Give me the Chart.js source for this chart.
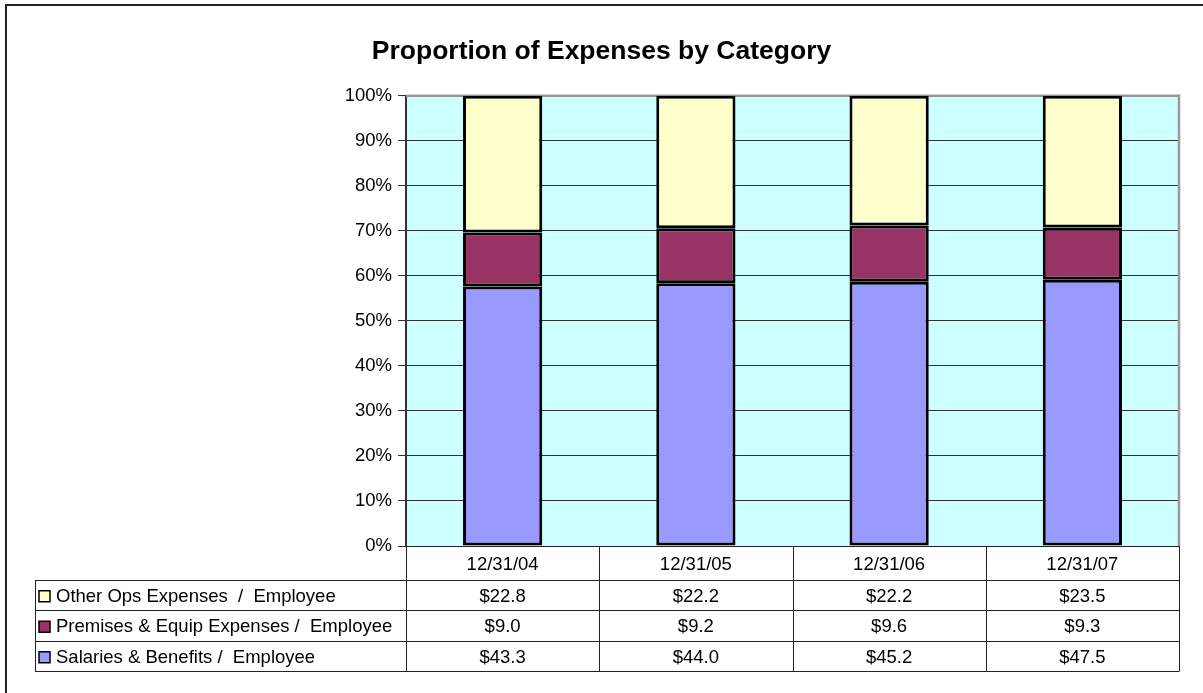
<!DOCTYPE html>
<html>
<head>
<meta charset="utf-8">
<script src="https://cdn.jsdelivr.net/npm/chart.js@4.4.1/dist/chart.umd.min.js"></script>
<style>
  html, body { margin: 0; padding: 0; background: #fff; }
  #wrap { width: 1203px; height: 693px; position: relative; }
</style>
</head>
<body>
<div id="wrap"><canvas id="expGraph"></canvas></div>
<script>
'use strict';

// data
const dates = ['12/31/04', '12/31/05', '12/31/06', '12/31/07'];
const salaries = [43.3, 44.0, 45.2, 47.5];
const premises = [9.0, 9.2, 9.6, 9.3];
const otherOps = [22.8, 22.2, 22.2, 23.5];
const yTicks = [0, 10, 20, 30, 40, 50, 60, 70, 80, 90, 100];

const seriesNames = ['Salaries & Benefits /  Employee', 'Premises & Equip Expenses /  Employee', 'Other Ops Expenses  /  Employee'];
const seriesColors = ['#9999FF', '#993366', '#FFFFCC'];

const FONT = '"Liberation Sans", Arial, sans-serif';
const TXT = 18.5;

function share(arr) {
  return arr.map(function (v, i) {
    return v / (salaries[i] + premises[i] + otherOps[i]) * 100;
  });
}

// plot background, frame, outer border and the data table
const tablePlugin = {
  id: 'tablePlugin',
  beforeDraw: function (chart) {
    const ctx = chart.ctx;
    const a = chart.chartArea;
    ctx.save();
    ctx.fillStyle = '#fff';
    ctx.fillRect(0, 0, chart.width, chart.height);
    ctx.strokeStyle = '#222';
    ctx.lineWidth = 2;
    ctx.beginPath();
    ctx.moveTo(6, chart.height + 5);
    ctx.lineTo(6, 5);
    ctx.lineTo(chart.width + 5, 5);
    ctx.stroke();
    ctx.fillStyle = '#CCFFFF';
    ctx.fillRect(a.left, a.top, a.right - a.left, a.bottom - a.top);
    ctx.restore();
  },
  beforeDatasetsDraw: function (chart) {
    const ctx = chart.ctx;
    const a = chart.chartArea;
    ctx.save();
    ctx.strokeStyle = '#999';
    ctx.lineWidth = 2.5;
    ctx.beginPath();
    ctx.moveTo(a.left, a.top);
    ctx.lineTo(a.right, a.top);
    ctx.lineTo(a.right, a.bottom);
    ctx.stroke();
    ctx.restore();
  },
  afterDraw: function (chart) {
    const ctx = chart.ctx;
    const a = chart.chartArea;
    const xs = chart.scales.x;
    const step = xs.getPixelForValue(1) - xs.getPixelForValue(0);
    const tableLeft = 35;
    const rowTops = [a.bottom, a.bottom + 33.5, a.bottom + 64, a.bottom + 94.5, a.bottom + 125];
    const rows = [
      { name: seriesNames[2], color: seriesColors[2], vals: otherOps },
      { name: seriesNames[1], color: seriesColors[1], vals: premises },
      { name: seriesNames[0], color: seriesColors[0], vals: salaries }
    ];

    ctx.save();
    ctx.strokeStyle = '#222';
    ctx.lineWidth = 1;
    ctx.beginPath();
    // horizontal lines
    ctx.moveTo(a.left, rowTops[0] + 0.5);
    ctx.lineTo(a.right, rowTops[0] + 0.5);
    for (let r = 1; r < rowTops.length; r++) {
      ctx.moveTo(tableLeft, Math.round(rowTops[r]) + 0.5);
      ctx.lineTo(a.right, Math.round(rowTops[r]) + 0.5);
    }
    // vertical lines
    ctx.moveTo(tableLeft + 0.5, Math.round(rowTops[1]) + 0.5);
    ctx.lineTo(tableLeft + 0.5, Math.round(rowTops[4]) + 0.5);
    for (let i = 0; i <= dates.length; i++) {
      const x = Math.round(xs.getPixelForValue(i) - step / 2) + 0.5;
      ctx.moveTo(x, rowTops[0]);
      ctx.lineTo(x, Math.round(rowTops[4]) + 0.5);
    }
    ctx.stroke();

    ctx.fillStyle = '#000';
    ctx.font = TXT + 'px ' + FONT;
    ctx.textBaseline = 'middle';
    ctx.textAlign = 'center';
    dates.forEach(function (d, i) {
      ctx.fillText(d, xs.getPixelForValue(i), (rowTops[0] + rowTops[1]) / 2 + 2);
    });

    rows.forEach(function (row, r) {
      const yc = (rowTops[r + 1] + rowTops[r + 2]) / 2 + 2;
      ctx.fillStyle = row.color;
      ctx.fillRect(39, yc - 6, 11, 11);
      ctx.strokeStyle = '#000';
      ctx.lineWidth = 1.5;
      ctx.strokeRect(39, yc - 6, 11, 11);
      ctx.fillStyle = '#000';
      ctx.textAlign = 'left';
      ctx.fillText(row.name, 56, yc);
      ctx.textAlign = 'center';
      row.vals.forEach(function (v, i) {
        ctx.fillText('$' + v.toFixed(1), xs.getPixelForValue(i), yc);
      });
    });
    ctx.restore();
  }
};

window.onload = function () {
  const context = document.getElementById('expGraph').getContext('2d');

  const barStyle = {
    borderColor: '#000',
    borderWidth: 3,
    borderSkipped: false,
    barPercentage: 0.41,
    categoryPercentage: 1.0
  };

  new Chart(context, {
    type: 'bar',
    data: {
      labels: dates,
      datasets: [
        Object.assign({ label: seriesNames[0], data: share(salaries), backgroundColor: seriesColors[0] }, barStyle),
        Object.assign({ label: seriesNames[1], data: share(premises), backgroundColor: seriesColors[1] }, barStyle),
        Object.assign({ label: seriesNames[2], data: share(otherOps), backgroundColor: seriesColors[2] }, barStyle)
      ]
    },
    options: {
      responsive: true,
      maintainAspectRatio: false,
      animation: false,
      layout: {
        padding: { top: 36, right: 24, bottom: 147, left: 24 }
      },
      scales: {
        x: {
          display: false,
          stacked: true
        },
        y: {
          stacked: true,
          min: 0,
          max: 100,
          afterFit: function (scale) { scale.width = 382; },
          afterBuildTicks: function (scale) {
            scale.ticks = yTicks.map(function (v) { return { value: v }; });
          },
          ticks: {
            color: '#000',
            padding: 6,
            font: { family: FONT, size: TXT },
            callback: function (value) { return value + '%'; }
          },
          grid: {
            color: '#333',
            lineWidth: 1,
            tickLength: 8,
            tickColor: '#333'
          },
          border: { color: '#333', width: 2 }
        }
      },
      plugins: {
        legend: { display: false },
        tooltip: { enabled: false },
        title: {
          display: true,
          text: 'Proportion of Expenses by Category',
          color: '#000',
          font: { family: FONT, size: 26.5, weight: 'bold' },
          padding: { top: 0, bottom: 28 }
        }
      }
    },
    plugins: [tablePlugin]
  });
};
</script>
</body>
</html>
